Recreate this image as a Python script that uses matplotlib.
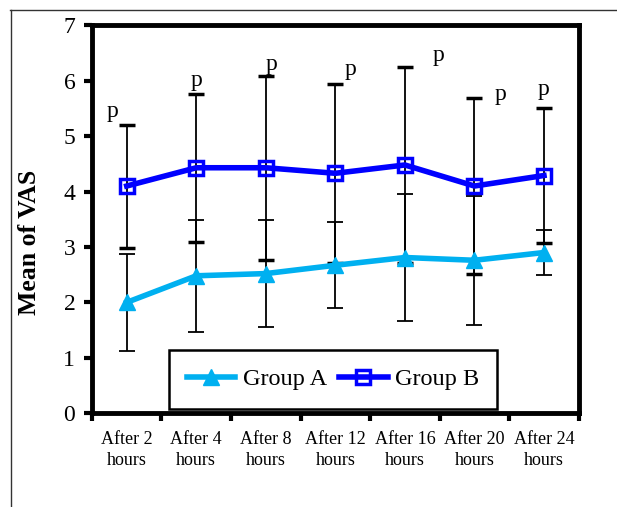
import matplotlib
matplotlib.use('Agg')
import matplotlib.pyplot as plt
from matplotlib.lines import Line2D
import numpy as np

plt.rcParams['font.family'] = ['Liberation Serif', 'DejaVu Serif']

# Data
times = ["After 2\nhours", "After 4\nhours", "After 8\nhours", "After 12\nhours",
         "After 16\nhours", "After 20\nhours", "After 24\nhours"]
group_a = [2.0, 2.48, 2.52, 2.67, 2.81, 2.76, 2.90]
group_a_sd = [0.88, 1.01, 0.97, 0.78, 1.14, 1.16, 0.40]
group_b = [4.10, 4.43, 4.43, 4.33, 4.48, 4.10, 4.29]
group_b_sd = [1.11, 1.34, 1.66, 1.62, 1.77, 1.58, 1.22]
sig_label = "p"

# where the significance marks sit (x offset from category, y in data units)
p_pos = [(-0.2, 5.45), (0.0, 6.0), (0.08, 6.3), (0.22, 6.2),
         (0.48, 6.45), (0.37, 5.75), (0.0, 5.85)]

col_a = '#00B0F0'
col_b = '#0000FF'

fig = plt.figure(figsize=(6.17, 5.07), dpi=100)
ax = fig.add_axes([0.149, 0.185, 0.789, 0.765])
x = np.arange(len(times))

ax.errorbar(x, group_a, yerr=group_a_sd, color=col_a, lw=4, marker='^', ms=11,
            mfc=col_a, mec=col_a, ecolor='black', elinewidth=1.3,
            capsize=6, capthick=1.3, zorder=3)
ax.errorbar(x, group_b, yerr=group_b_sd, color=col_b, lw=4, marker='s', ms=10,
            mfc='none', mec=col_b, mew=2.5, ecolor='black', elinewidth=1.3,
            capsize=6, capthick=1.3, zorder=3)

for i, (dx, py) in enumerate(p_pos):
    ax.text(i + dx, py, sig_label, fontsize=17, ha='center', va='center')

ax.set_xlim(-0.5, len(times) - 0.5)
ax.set_ylim(0, 7)
ax.set_yticks(range(0, 8))
ax.tick_params(axis='y', labelsize=17, width=3, length=6, direction='out', pad=6)
ax.set_xticks(np.arange(-0.5, len(times), 1.0))
ax.set_xticklabels([])
ax.set_xticks(x, minor=True)
ax.set_xticklabels(times, minor=True, fontsize=13, linespacing=1.3)
ax.tick_params(axis='x', which='major', width=3, length=6, direction='out')
ax.tick_params(axis='x', which='minor', length=0, pad=13)
for s in ax.spines.values():
    s.set_linewidth(3.5)

ax.set_ylabel('Mean of VAS', fontsize=18.5, fontweight='bold')
ax.yaxis.set_label_coords(-0.105, 0.44)

# legend without the error bar glyphs
handles = [Line2D([], [], color=col_a, lw=4, marker='^', ms=11, mfc=col_a, mec=col_a),
           Line2D([], [], color=col_b, lw=4, marker='s', ms=10, mfc='none', mec=col_b, mew=2.5)]
leg = ax.legend(handles, ['Group A', 'Group B'], loc='lower center',
                bbox_to_anchor=(0.495, 0.012), borderaxespad=0, ncol=2, fontsize=17.5,
                frameon=True, fancybox=False, edgecolor='black', handlelength=2.0,
                columnspacing=0.5, handletextpad=0.3, borderpad=0.75, framealpha=1)
leg.get_frame().set_linewidth(1.8)

# outer frame lines
fig.add_artist(Line2D([10 / 617, 1], [1 - 10 / 507, 1 - 10 / 507], color='#333333', lw=1))
fig.add_artist(Line2D([11 / 617, 11 / 617], [0, 1 - 10 / 507], color='#333333', lw=1))

fig.savefig('out.png', dpi=100, facecolor='white')
